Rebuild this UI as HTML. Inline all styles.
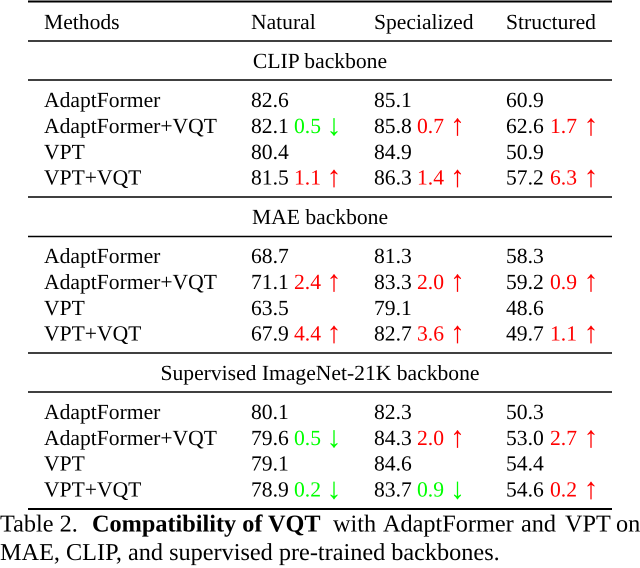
<!DOCTYPE html>
<html>
<head>
<meta charset="utf-8">
<title>Table 2</title>
<style>
html,body{margin:0;padding:0;background:#fff;width:640px;height:568px;overflow:hidden}
svg{display:block;filter:blur(.3px)}
text{font-family:"Liberation Serif",serif;font-size:21.6px;fill:#000;text-rendering:geometricPrecision}
.r{fill:#ff0000}
.g{fill:#00ff00}
.a{font-size:30px;text-anchor:middle;font-weight:normal}
.c{font-size:24.25px}
.b{font-weight:bold}
line{stroke:#000}
</style>
</head>
<body>
<svg width="640" height="568" viewBox="0 0 640 568">
<line x1="28" x2="612" y1="1.5" y2="1.5" stroke-width="2"/>
<line x1="28" x2="612" y1="41" y2="41" stroke-width="1.4"/>
<line x1="28" x2="612" y1="80" y2="80" stroke-width="1.4"/>
<line x1="28" x2="612" y1="197" y2="197" stroke-width="1.4"/>
<line x1="28" x2="612" y1="236.5" y2="236.5" stroke-width="1.4"/>
<line x1="28" x2="612" y1="353" y2="353" stroke-width="1.4"/>
<line x1="28" x2="612" y1="392" y2="392" stroke-width="1.4"/>
<line x1="28" x2="612" y1="509" y2="509" stroke-width="2"/>

<g>
<text x="44" y="29">Methods</text>
<text x="251" y="29">Natural</text>
<text x="374" y="29">Specialized</text>
<text x="506" y="29">Structured</text>
</g>

<text x="320" y="68" text-anchor="middle">CLIP backbone</text>
<g>
<text x="44" y="107">AdaptFormer</text><text x="251" y="107">82.6</text><text x="374" y="107">85.1</text><text x="506" y="107">60.9</text>
<text x="44" y="133">AdaptFormer+VQT</text><text x="251" y="133">82.1</text><text x="294" y="133" class="g">0.5</text><text x="334" y="135" class="g a">↓</text><text x="374" y="133">85.8</text><text x="417" y="133" class="r">0.7</text><text x="457.5" y="135" class="r a">↑</text><text x="506" y="133">62.6</text><text x="550" y="133" class="r">1.7</text><text x="591" y="135" class="r a">↑</text>
<text x="44" y="159">VPT</text><text x="251" y="159">80.4</text><text x="374" y="159">84.9</text><text x="506" y="159">50.9</text>
<text x="44" y="184.5">VPT+VQT</text><text x="251" y="184.5">81.5</text><text x="294" y="184.5" class="r">1.1</text><text x="334" y="186.5" class="r a">↑</text><text x="374" y="184.5">86.3</text><text x="417" y="184.5" class="r">1.4</text><text x="457.5" y="186.5" class="r a">↑</text><text x="506" y="184.5">57.2</text><text x="550" y="184.5" class="r">6.3</text><text x="591" y="186.5" class="r a">↑</text>
</g>

<text x="320" y="224" text-anchor="middle">MAE backbone</text>
<g>
<text x="44" y="263">AdaptFormer</text><text x="251" y="263">68.7</text><text x="374" y="263">81.3</text><text x="506" y="263">58.3</text>
<text x="44" y="289">AdaptFormer+VQT</text><text x="251" y="289">71.1</text><text x="294" y="289" class="r">2.4</text><text x="334" y="291" class="r a">↑</text><text x="374" y="289">83.3</text><text x="417" y="289" class="r">2.0</text><text x="457.5" y="291" class="r a">↑</text><text x="506" y="289">59.2</text><text x="550" y="289" class="r">0.9</text><text x="591" y="291" class="r a">↑</text>
<text x="44" y="315">VPT</text><text x="251" y="315">63.5</text><text x="374" y="315">79.1</text><text x="506" y="315">48.6</text>
<text x="44" y="340.5">VPT+VQT</text><text x="251" y="340.5">67.9</text><text x="294" y="340.5" class="r">4.4</text><text x="334" y="342.5" class="r a">↑</text><text x="374" y="340.5">82.7</text><text x="417" y="340.5" class="r">3.6</text><text x="457.5" y="342.5" class="r a">↑</text><text x="506" y="340.5">49.7</text><text x="550" y="340.5" class="r">1.1</text><text x="591" y="342.5" class="r a">↑</text>
</g>

<text x="320" y="380" text-anchor="middle">Supervised ImageNet-21K backbone</text>
<g>
<text x="44" y="419">AdaptFormer</text><text x="251" y="419">80.1</text><text x="374" y="419">82.3</text><text x="506" y="419">50.3</text>
<text x="44" y="445">AdaptFormer+VQT</text><text x="251" y="445">79.6</text><text x="294" y="445" class="g">0.5</text><text x="334" y="447" class="g a">↓</text><text x="374" y="445">84.3</text><text x="417" y="445" class="r">2.0</text><text x="457.5" y="447" class="r a">↑</text><text x="506" y="445">53.0</text><text x="550" y="445" class="r">2.7</text><text x="591" y="447" class="r a">↑</text>
<text x="44" y="470.5">VPT</text><text x="251" y="470.5">79.1</text><text x="374" y="470.5">84.6</text><text x="506" y="470.5">54.4</text>
<text x="44" y="496.5">VPT+VQT</text><text x="251" y="496.5">78.9</text><text x="294" y="496.5" class="g">0.2</text><text x="334" y="498.5" class="g a">↓</text><text x="374" y="496.5">83.7</text><text x="417" y="496.5" class="g">0.9</text><text x="457.5" y="498.5" class="g a">↓</text><text x="506" y="496.5">54.6</text><text x="550" y="496.5" class="r">0.2</text><text x="591" y="498.5" class="r a">↑</text>
</g>

<g>
<text x="0" y="531.5" class="c">Table 2.</text>
<text x="92" y="531.5" class="c b">Compatibility of VQT</text>
<text x="333" y="531.5" class="c">with</text>
<text x="383" y="531.5" class="c">AdaptFormer</text>
<text x="521" y="531.5" class="c">and</text>
<text x="565" y="531.5" class="c">VPT</text>
<text x="616" y="531.5" class="c">on</text>
<text x="0" y="560" class="c">MAE, CLIP, and supervised pre-trained backbones.</text>
</g>
</svg>
</body>
</html>
